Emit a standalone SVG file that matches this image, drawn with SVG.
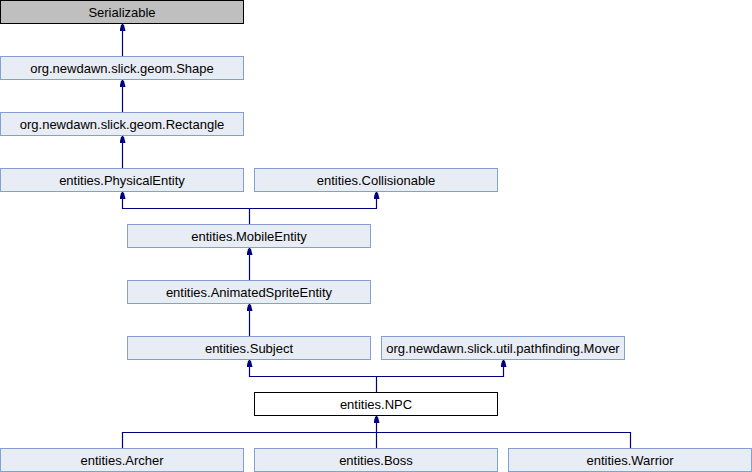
<svg xmlns="http://www.w3.org/2000/svg" width="752" height="472" viewBox="0 0 752 472">
  <defs>
    <style>
      .node rect { fill: #e8ecf5; stroke: #84a0d0; stroke-width: 1; }
      .node text { font-family: "Liberation Sans", Arial, sans-serif; font-size: 13px; fill: #000; text-anchor: middle; }
      #n-serializable rect { fill: #bfbfbf; stroke: #000; }
      #n-npc rect { fill: #fff; stroke: #000; }
      .edges path { fill: none; stroke: #000080; stroke-width: 1.2; }
    </style>
    <!-- small filled arrowhead, tip pointing along the path direction -->
    <marker id="arrow" viewBox="0 0 7 6" refX="7" refY="3" markerWidth="7" markerHeight="6" markerUnits="userSpaceOnUse" orient="auto">
      <path d="M0,0 L6,1.5 L7,3 L6,4.5 L0,6 Z" fill="#000080"/>
    </marker>
  </defs>

  <g class="edges">
    <path d="M122.5,56 V24" marker-end="url(#arrow)"/>
    <path d="M122.5,112 V80" marker-end="url(#arrow)"/>
    <path d="M122.5,168 V136" marker-end="url(#arrow)"/>
    <!-- MobileEntity -> PhysicalEntity, Collisionable -->
    <path d="M249.5,224 V208.5 H122.5 V192" marker-end="url(#arrow)"/>
    <path d="M249.5,208.5 H376.5 V192" marker-end="url(#arrow)"/>
    <path d="M249.5,280 V248" marker-end="url(#arrow)"/>
    <path d="M249.5,336 V304" marker-end="url(#arrow)"/>
    <!-- NPC -> Subject, Mover -->
    <path d="M376.5,392 V376.5 H249.5 V360" marker-end="url(#arrow)"/>
    <path d="M376.5,376.5 H503.5 V360" marker-end="url(#arrow)"/>
    <!-- Archer, Boss, Warrior -> NPC -->
    <path d="M122.5,448 V432.5 H376.5 V416" marker-end="url(#arrow)"/>
    <path d="M376.5,448 V432.5"/>
    <path d="M630.5,448 V432.5 H376.5"/>
  </g>

  <g id="n-serializable" class="node"><rect x="0.5" y="0.5" width="243" height="23"/><text x="122" y="16.5">Serializable</text></g>
  <g id="n-shape" class="node"><rect x="0.5" y="56.5" width="243" height="23"/><text x="122" y="72.5">org.newdawn.slick.geom.Shape</text></g>
  <g id="n-rectangle" class="node"><rect x="0.5" y="112.5" width="243" height="23"/><text x="122" y="128.5">org.newdawn.slick.geom.Rectangle</text></g>
  <g id="n-physicalentity" class="node"><rect x="0.5" y="168.5" width="243" height="23"/><text x="122" y="184.5">entities.PhysicalEntity</text></g>
  <g id="n-collisionable" class="node"><rect x="254.5" y="168.5" width="243" height="23"/><text x="376" y="184.5">entities.Collisionable</text></g>
  <g id="n-mobileentity" class="node"><rect x="127.5" y="224.5" width="243" height="23"/><text x="249" y="240.5">entities.MobileEntity</text></g>
  <g id="n-animatedspriteentity" class="node"><rect x="127.5" y="280.5" width="243" height="23"/><text x="249" y="296.5">entities.AnimatedSpriteEntity</text></g>
  <g id="n-subject" class="node"><rect x="127.5" y="336.5" width="243" height="23"/><text x="249" y="352.5">entities.Subject</text></g>
  <g id="n-mover" class="node"><rect x="381.5" y="336.5" width="243" height="23"/><text x="503" y="352.5">org.newdawn.slick.util.pathfinding.Mover</text></g>
  <g id="n-npc" class="node"><rect x="254.5" y="392.5" width="243" height="23"/><text x="376" y="408.5">entities.NPC</text></g>
  <g id="n-archer" class="node"><rect x="0.5" y="448.5" width="243" height="23"/><text x="122" y="464.5">entities.Archer</text></g>
  <g id="n-boss" class="node"><rect x="254.5" y="448.5" width="243" height="23"/><text x="376" y="464.5">entities.Boss</text></g>
  <g id="n-warrior" class="node"><rect x="508.5" y="448.5" width="243" height="23"/><text x="630" y="464.5">entities.Warrior</text></g>
</svg>
